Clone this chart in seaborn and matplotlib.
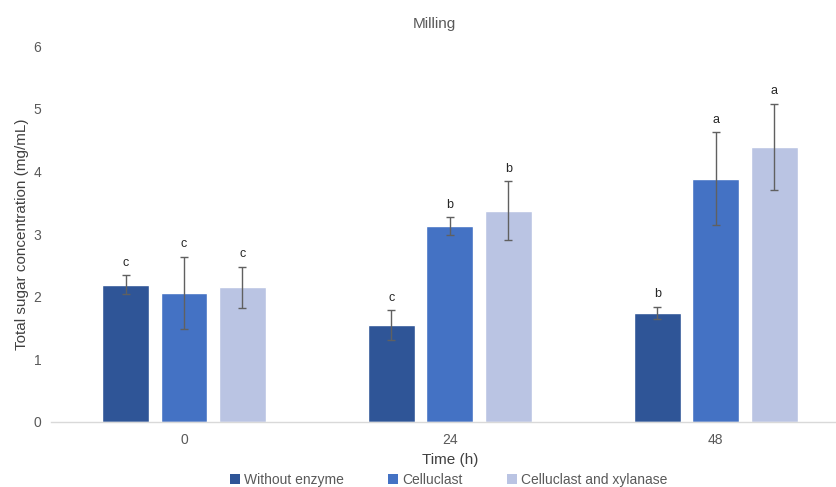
import matplotlib
matplotlib.use("Agg")
import matplotlib.pyplot as plt
import seaborn as sns
import pandas as pd
import numpy as np
from matplotlib.patches import Patch

times = ["0", "24", "48"]
treatments = ["Without enzyme", "Celluclast", "Celluclast and xylanase"]
without_enzyme = [2.19, 1.55, 1.74]
celluclast = [2.06, 3.13, 3.88]
cell_xyl = [2.15, 3.37, 4.39]
err_without = [0.15, 0.24, 0.10]
err_cell = [0.58, 0.14, 0.74]
err_cx = [0.33, 0.47, 0.69]
letters_without = ["c", "c", "b"]
letters_cell = ["c", "b", "a"]
letters_cx = ["c", "b", "a"]

colors = ["#2F5597", "#4472C4", "#BAC4E3"]

rows = []
for t_i, t in enumerate(times):
    for name, vals, errs, lets in [
        (treatments[0], without_enzyme, err_without, letters_without),
        (treatments[1], celluclast, err_cell, letters_cell),
        (treatments[2], cell_xyl, err_cx, letters_cx),
    ]:
        rows.append({"Time": t, "Treatment": name, "Value": vals[t_i],
                     "Err": errs[t_i], "Letter": lets[t_i]})
df = pd.DataFrame(rows)

sns.set_theme(style="white")
plt.rcParams["font.family"] = ["Liberation Sans", "DejaVu Sans"]

fig = plt.figure(figsize=(8.37, 4.87), dpi=100)
ax = fig.add_axes([0.061, 0.1335, 0.953, 0.772])

sns.barplot(data=df, x="Time", y="Value", hue="Treatment", order=times,
            hue_order=treatments, palette=colors, width=0.66, gap=0.2,
            errorbar=None, legend=False, ax=ax, saturation=1)

# error bars and letters
containers = list(ax.containers)
for c_i, cont in enumerate(containers):
    name = treatments[c_i]
    sub = df[df["Treatment"] == name].set_index("Time").loc[times]
    for p, (_, r) in zip(cont.patches, sub.iterrows()):
        x = p.get_x() + p.get_width() / 2
        h = p.get_height()
        ax.errorbar(x, h, yerr=r["Err"], fmt="none", ecolor="#606060",
                    elinewidth=1.0, capsize=3, capthick=1.0, zorder=5)
        ax.text(x, h + r["Err"] + 0.1, r["Letter"], ha="center", va="bottom",
                fontsize=9, color="#262626")

ax.set_ylim(0, 6)
ax.set_xlim(-0.5, 2.5)
ax.set_yticks(range(0, 7))
ax.tick_params(axis="x", colors="#595959", labelsize=10, length=0, pad=8)
ax.tick_params(axis="y", colors="#595959", labelsize=10, length=0, pad=7)
for s in ["left", "right", "top"]:
    ax.spines[s].set_visible(False)
ax.spines["bottom"].set_color("#D9D9D9")
ax.spines["bottom"].set_linewidth(1.0)

fig.text(434 / 837, 1 - 24 / 487, "Milling", fontsize=11, color="#595959",
         ha="center", va="center")
ax.set_xlabel("Time (h)", fontsize=11, color="#404040", labelpad=4)
ax.set_ylabel("Total sugar concentration (mg/mL)", fontsize=11,
              color="#404040", labelpad=3)

handles = [Patch(facecolor=c, edgecolor="none") for c in colors]
fig.legend(handles, treatments, loc="center", ncol=3, frameon=False,
           bbox_to_anchor=(0.536, 7 / 487), fontsize=10, handlelength=0.7,
           handleheight=0.7, handletextpad=0.3, columnspacing=3.2,
           labelcolor="#595959")

fig.savefig("out.png", dpi=100)
